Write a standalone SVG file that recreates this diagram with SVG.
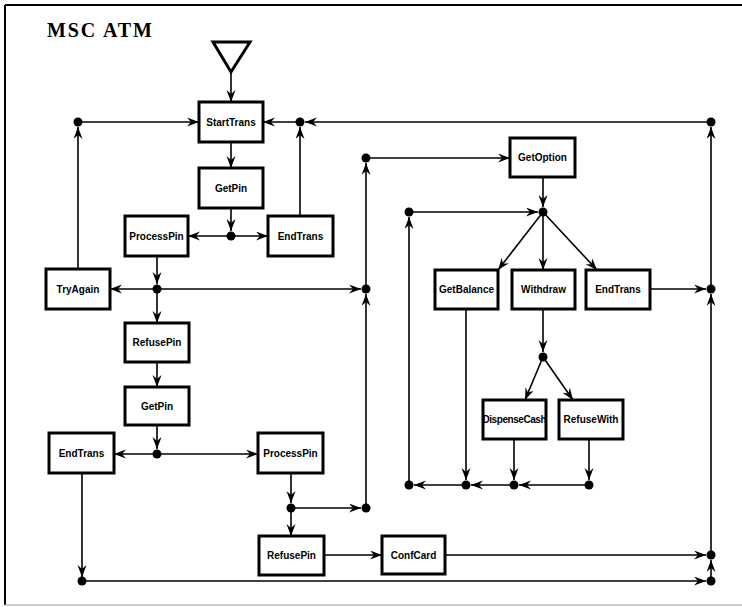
<svg xmlns="http://www.w3.org/2000/svg" width="742" height="607" viewBox="0 0 742 607">
<defs>
<marker id="ah" markerUnits="userSpaceOnUse" markerWidth="13" markerHeight="10" refX="12" refY="4.5" orient="auto">
<path d="M0,0 L12,4.5 L0,9 L4,4.5 Z" fill="#000"/>
</marker>
</defs>
<style>
.box{fill:#fff;stroke:#000;stroke-width:3}
.lbl{font-family:"Liberation Sans",Arial,sans-serif;font-weight:bold;font-size:10px;text-anchor:middle;fill:#000}
.c line,.c polyline{stroke:#000;stroke-width:1.6;fill:none;marker-end:url(#ah)}
.dot{fill:#000}
</style>
<rect width="742" height="607" fill="#fff"/>
<g id="frame" stroke="#000" fill="none">
<line x1="5" y1="5" x2="742" y2="5" stroke-width="2"/>
<line x1="5" y1="5" x2="5" y2="605" stroke-width="2"/>
<line x1="5" y1="605" x2="742" y2="605" stroke="#bbb" stroke-width="1.5"/>
</g>
<text x="47" y="37" font-family="Liberation Serif,'Times New Roman',serif" font-weight="bold" font-size="20" textLength="105">MSC ATM</text>

<g class="c" id="connectors">
<line x1="231" y1="72" x2="231" y2="102"/>
<line x1="231" y1="142" x2="231" y2="168"/>
<line x1="231" y1="208" x2="231" y2="231"/>
<line x1="231" y1="236" x2="188" y2="236"/>
<line x1="231" y1="236" x2="268" y2="236"/>
<line x1="300" y1="216" x2="300" y2="127"/>
<line x1="711" y1="122" x2="305" y2="122"/>
<line x1="300" y1="122" x2="263" y2="122"/>
<line x1="78" y1="122" x2="199" y2="122"/>
<line x1="78" y1="269" x2="78" y2="127"/>
<line x1="157" y1="256" x2="157" y2="284"/>
<line x1="157" y1="289" x2="110" y2="289"/>
<line x1="157" y1="289" x2="361" y2="289"/>
<line x1="157" y1="289" x2="157" y2="323"/>
<line x1="157" y1="362" x2="157" y2="387"/>
<line x1="157" y1="425" x2="157" y2="449"/>
<line x1="157" y1="454" x2="114" y2="454"/>
<line x1="157" y1="454" x2="258" y2="454"/>
<line x1="291" y1="473" x2="291" y2="503"/>
<line x1="291" y1="508" x2="361" y2="508"/>
<line x1="291" y1="508" x2="291" y2="536"/>
<line x1="366" y1="508" x2="366" y2="294"/>
<line x1="366" y1="289" x2="366" y2="163"/>
<line x1="366" y1="158" x2="510" y2="158"/>
<line x1="543" y1="177" x2="543" y2="207"/>
<line x1="409" y1="212" x2="538" y2="212"/>
<line x1="543" y1="212" x2="498" y2="270"/>
<line x1="543" y1="212" x2="543" y2="270"/>
<line x1="543" y1="212" x2="597" y2="270"/>
<line x1="650" y1="289" x2="706" y2="289"/>
<line x1="543" y1="309" x2="543" y2="352"/>
<line x1="543" y1="357" x2="525" y2="400"/>
<line x1="543" y1="357" x2="573" y2="400"/>
<line x1="466" y1="309" x2="466" y2="480"/>
<line x1="514" y1="439" x2="514" y2="480"/>
<line x1="589" y1="439" x2="589" y2="480"/>
<line x1="589" y1="485" x2="519" y2="485"/>
<line x1="514" y1="485" x2="471" y2="485"/>
<line x1="466" y1="485" x2="414" y2="485"/>
<line x1="409" y1="485" x2="409" y2="217"/>
<line x1="324" y1="555" x2="382" y2="555"/>
<line x1="445" y1="555" x2="706" y2="555"/>
<line x1="82" y1="473" x2="82" y2="577"/>
<line x1="82" y1="581" x2="706" y2="581"/>
<line x1="711" y1="581" x2="711" y2="560"/>
<line x1="711" y1="555" x2="711" y2="294"/>
<line x1="711" y1="289" x2="711" y2="127"/>
</g>

<g id="dots" class="dot">
<circle cx="78" cy="122" r="4.5"/>
<circle cx="300" cy="122" r="4.5"/>
<circle cx="711" cy="122" r="4.5"/>
<circle cx="366" cy="158" r="4.5"/>
<circle cx="231" cy="236" r="4.5"/>
<circle cx="157" cy="289" r="4.5"/>
<circle cx="366" cy="289" r="4.5"/>
<circle cx="543" cy="212" r="4.5"/>
<circle cx="409" cy="212" r="4.5"/>
<circle cx="711" cy="289" r="4.5"/>
<circle cx="543" cy="357" r="4.5"/>
<circle cx="157" cy="454" r="4.5"/>
<circle cx="291" cy="508" r="4.5"/>
<circle cx="366" cy="508" r="4.5"/>
<circle cx="409" cy="485" r="4.5"/>
<circle cx="466" cy="485" r="4.5"/>
<circle cx="514" cy="485" r="4.5"/>
<circle cx="589" cy="485" r="4.5"/>
<circle cx="711" cy="555" r="4.5"/>
<circle cx="82" cy="581" r="4.5"/>
<circle cx="711" cy="581" r="4.5"/>
</g>

<g id="start"><polygon points="213,42 250,42 231,72" fill="#fff" stroke="#000" stroke-width="3"/></g>
<g id="StartTrans"><rect class="box" x="199" y="102" width="64" height="40"/><text class="lbl" x="231" y="126">StartTrans</text></g>
<g id="GetPin1"><rect class="box" x="199" y="168" width="64" height="40"/><text class="lbl" x="231" y="192">GetPin</text></g>
<g id="ProcessPin1"><rect class="box" x="125" y="216" width="63" height="40"/><text class="lbl" x="156.5" y="240">ProcessPin</text></g>
<g id="EndTrans1"><rect class="box" x="268" y="216" width="65" height="40"/><text class="lbl" x="300.5" y="240">EndTrans</text></g>
<g id="TryAgain"><rect class="box" x="46" y="269" width="64" height="40"/><text class="lbl" x="78" y="293">TryAgain</text></g>
<g id="RefusePin1"><rect class="box" x="125" y="323" width="64" height="39"/><text class="lbl" x="157" y="346">RefusePin</text></g>
<g id="GetPin2"><rect class="box" x="125" y="387" width="64" height="38"/><text class="lbl" x="157" y="410">GetPin</text></g>
<g id="EndTrans2"><rect class="box" x="49" y="433" width="65" height="40"/><text class="lbl" x="81.5" y="457">EndTrans</text></g>
<g id="ProcessPin2"><rect class="box" x="258" y="433" width="65" height="40"/><text class="lbl" x="290.5" y="457">ProcessPin</text></g>
<g id="RefusePin2"><rect class="box" x="259" y="536" width="65" height="39"/><text class="lbl" x="291.5" y="559">RefusePin</text></g>
<g id="ConfCard"><rect class="box" x="382" y="536" width="63" height="38"/><text class="lbl" x="413.5" y="559">ConfCard</text></g>
<g id="GetOption"><rect class="box" x="510" y="138" width="65" height="39"/><text class="lbl" x="542.5" y="161">GetOption</text></g>
<g id="GetBalance"><rect class="box" x="435" y="270" width="63" height="39"/><text class="lbl" x="466.5" y="293">GetBalance</text></g>
<g id="Withdraw"><rect class="box" x="512" y="270" width="63" height="39"/><text class="lbl" x="543.5" y="293">Withdraw</text></g>
<g id="EndTrans3"><rect class="box" x="586" y="270" width="64" height="39"/><text class="lbl" x="618" y="293">EndTrans</text></g>
<g id="DispenseCash"><rect class="box" x="483" y="400" width="63" height="39"/><text class="lbl" x="514.5" y="423" textLength="64">DispenseCash</text></g>
<g id="RefuseWith"><rect class="box" x="559" y="400" width="64" height="39"/><text class="lbl" x="591" y="423">RefuseWith</text></g>
</svg>
